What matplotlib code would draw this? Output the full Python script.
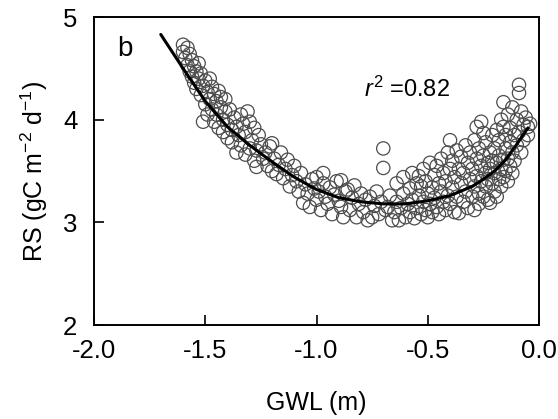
import matplotlib
matplotlib.use('Agg')
import matplotlib.pyplot as plt

# ─── Data ──────────────────────────────────────────────────────────────────────
# Observations: groundwater level (m) vs soil respiration (gC m-2 d-1)
GWL = [
    # -1.60 .. -1.40
    -1.60, -1.60, -1.59, -1.58, -1.58, -1.57, -1.57, -1.56, -1.56, -1.55,
    -1.55, -1.54, -1.54, -1.53, -1.53, -1.52, -1.52, -1.51, -1.51, -1.50,
    -1.50, -1.49, -1.49, -1.48, -1.48, -1.47, -1.47, -1.46, -1.46, -1.45,
    -1.45, -1.44, -1.44, -1.43, -1.43, -1.42, -1.42, -1.41, -1.41, -1.40,
    -1.40,
    # -1.40 .. -1.20
    -1.39, -1.38, -1.38, -1.37, -1.36, -1.36, -1.35, -1.34, -1.34, -1.33,
    -1.32, -1.32, -1.31, -1.30, -1.30, -1.29, -1.28, -1.28, -1.27, -1.27,
    -1.26, -1.25, -1.24, -1.23, -1.22, -1.21, -1.20, -1.20,
    # -1.20 .. -0.95
    -1.19, -1.18, -1.17, -1.16, -1.15, -1.14, -1.13, -1.12, -1.11, -1.10,
    -1.09, -1.08, -1.07, -1.06, -1.05, -1.04, -1.03, -1.02, -1.01, -1.00,
    -1.00, -0.99, -0.98, -0.97, -0.97, -0.96,
    # -0.95 .. -0.55
    -0.95, -0.94, -0.93, -0.92, -0.91, -0.90, -0.89, -0.89, -0.88, -0.87,
    -0.86, -0.85, -0.84, -0.83, -0.82, -0.81, -0.80, -0.79, -0.78, -0.77,
    -0.76, -0.75, -0.74, -0.73, -0.72, -0.71, -0.70, -0.70, -0.69, -0.68,
    -0.67, -0.66, -0.65, -0.64, -0.64, -0.63, -0.62, -0.61, -0.61, -0.60,
    -0.59, -0.58, -0.58, -0.57, -0.57, -0.56, -0.55,
    # -0.55 .. -0.30
    -0.55, -0.54, -0.54, -0.53, -0.53, -0.52, -0.52, -0.51, -0.51, -0.50,
    -0.50, -0.49, -0.49, -0.48, -0.48, -0.47, -0.47, -0.46, -0.46, -0.45,
    -0.45, -0.44, -0.44, -0.43, -0.43, -0.42, -0.42, -0.41, -0.41, -0.40,
    -0.40, -0.40, -0.39, -0.39, -0.38, -0.38, -0.37, -0.37, -0.36, -0.36,
    -0.35, -0.35, -0.34, -0.34, -0.33, -0.33, -0.32, -0.32, -0.31, -0.31,
    -0.30, -0.30,
    # -0.30 .. -0.04
    -0.29, -0.29, -0.29, -0.28, -0.28, -0.28, -0.27, -0.27, -0.27, -0.26,
    -0.26, -0.26, -0.25, -0.25, -0.25, -0.24, -0.24, -0.24, -0.23, -0.23,
    -0.23, -0.22, -0.22, -0.22, -0.21, -0.21, -0.21, -0.20, -0.20, -0.20,
    -0.19, -0.19, -0.19, -0.18, -0.18, -0.18, -0.17, -0.17, -0.17, -0.16,
    -0.16, -0.16, -0.16, -0.15, -0.15, -0.15, -0.14, -0.14, -0.14, -0.13,
    -0.13, -0.13, -0.12, -0.12, -0.12, -0.11, -0.11, -0.10, -0.10, -0.09,
    -0.09, -0.09, -0.08, -0.08, -0.07, -0.07, -0.06, -0.05, -0.05, -0.04,
]
RS = [
    4.73, 4.66, 4.60, 4.70, 4.53, 4.64, 4.47, 4.58, 4.42, 4.52,
    4.36, 4.47, 4.30, 4.55, 4.40, 4.24, 4.45, 4.33, 3.98, 4.38,
    4.15, 4.27, 4.05, 4.40, 4.20, 4.10, 4.32, 4.25, 3.98, 4.18,
    4.05, 4.28, 3.92, 4.12, 4.22, 4.00, 3.88, 4.20, 4.08, 3.95,
    3.82,
    4.10, 3.90, 3.78, 4.02, 3.93, 3.68, 3.85, 4.05, 3.75, 3.96,
    3.66, 3.88, 4.08, 3.98, 3.72, 3.80, 3.92, 3.60, 3.54, 3.70,
    3.85, 3.76, 3.62, 3.68, 3.55, 3.74, 3.77, 3.50,
    3.62, 3.47, 3.56, 3.68, 3.43, 3.52, 3.61, 3.35, 3.46, 3.55,
    3.40, 3.30, 3.48, 3.19, 3.37, 3.28, 3.15, 3.42, 3.33, 3.44,
    3.22, 3.30, 3.12, 3.38, 3.48, 3.25,
    3.18, 3.34, 3.08, 3.27, 3.40, 3.21, 3.41, 3.15, 3.05, 3.30,
    3.32, 3.12, 3.24, 3.36, 3.05, 3.18, 3.28, 3.10, 3.22, 3.02,
    3.25, 3.05, 3.16, 3.30, 3.08, 3.20, 3.72, 3.53, 3.12, 3.15,
    3.26, 3.02, 3.10, 3.38, 3.20, 3.02, 3.14, 3.44, 3.28, 3.05,
    3.18, 3.33, 3.10, 3.48, 3.22, 3.04, 3.38,
    3.14, 3.26, 3.45, 3.08, 3.35, 3.20, 3.52, 3.12, 3.40, 3.28,
    3.05, 3.58, 3.18, 3.34, 3.10, 3.46, 3.24, 3.55, 3.15, 3.38,
    3.08, 3.30, 3.62, 3.20, 3.48, 3.12, 3.40, 3.68, 3.26, 3.80,
    3.52, 3.18, 3.34, 3.60, 3.10, 3.44, 3.70, 3.25, 3.52, 3.09,
    3.38, 3.64, 3.20, 3.48, 3.75, 3.30, 3.58, 3.14, 3.42, 3.68,
    3.25, 3.52,
    3.80, 3.35, 3.12, 3.93, 3.62, 3.45, 3.28, 3.72, 3.18, 3.55,
    3.40, 3.98, 3.87, 3.25, 3.65, 3.48, 3.35, 3.78, 3.58, 3.22,
    3.42, 3.19, 3.68, 3.52, 3.85, 3.38, 3.60, 3.30, 3.72, 3.48,
    3.58, 3.25, 3.90, 3.42, 3.65, 3.80, 3.52, 3.35, 4.00, 3.44,
    3.61, 3.93, 4.17, 3.72, 3.50, 3.85, 3.40, 3.62, 4.05, 3.78,
    3.55, 3.92, 3.68, 3.48, 4.12, 3.85, 3.60, 4.00, 3.75, 4.34,
    4.26, 3.88, 3.68, 4.08, 3.95, 3.80, 4.02, 3.93, 3.85, 3.96,
]

# Fitted regression line
FIT_X = [-1.70, -1.60, -1.50, -1.40, -1.30, -1.20, -1.10, -1.00, -0.90,
         -0.80, -0.70, -0.60, -0.50, -0.40, -0.30, -0.25, -0.20, -0.15,
         -0.10, -0.05]
FIT_Y = [4.83, 4.50, 4.18, 3.93, 3.75, 3.59, 3.44, 3.32, 3.24,
         3.20, 3.18, 3.18, 3.21, 3.26, 3.35, 3.42, 3.50, 3.61,
         3.76, 3.92]

R2_TEXT = '$r^2$ =0.82'
PANEL = 'b'

# ─── Style ─────────────────────────────────────────────────────────────────────
plt.rcParams.update({
    'font.family':        'Liberation Sans',
    'mathtext.fontset':   'custom',
    'mathtext.rm':        'Liberation Sans',
    'mathtext.it':        'Liberation Sans:italic',
    'axes.unicode_minus': False,
    'axes.linewidth':     1.4,
})

fig = plt.figure(figsize=(5.58, 4.19), dpi=100)
ax = fig.add_axes([0.1685, 0.2243, 0.7975, 0.7351])

ax.scatter(GWL, RS, s=92, facecolors='none', edgecolors='0.3',
           linewidths=0.9, zorder=2)
ax.plot(FIT_X, FIT_Y, color='black', linewidth=2.2, zorder=3,
        solid_capstyle='round', solid_joinstyle='round')

ax.set_xlim(-2.0, 0.0)
ax.set_ylim(2, 5)
ax.set_xticks([-2.0, -1.5, -1.0, -0.5, 0.0])
ax.set_xticklabels(['-2.0', '-1.5', '-1.0', '-0.5', '0.0'])
ax.set_yticks([2, 3, 4, 5])
ax.tick_params(direction='in', length=7.5, width=1.2, labelsize=18.5,
               top=False, right=False)
ax.tick_params(axis='x', pad=10)
ax.tick_params(axis='y', pad=12)

ax.set_xlabel('GWL (m)', fontsize=18, labelpad=20)
ax.set_ylabel('RS (gC m$^{-2}$ d$^{-1}$)', fontsize=18, labelpad=9)

ax.text(0.07, 0.895, PANEL, transform=ax.transAxes, fontsize=20,
        ha='center', va='center')
ax.text(-0.593, 4.30, R2_TEXT, fontsize=17, ha='center', va='center')

fig.savefig('out.png', dpi=100)
